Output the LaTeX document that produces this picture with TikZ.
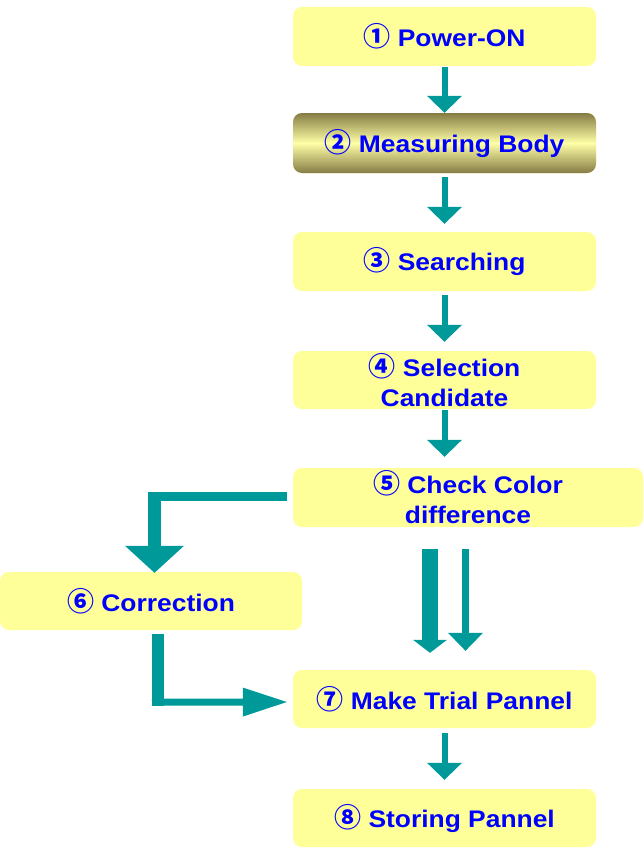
\documentclass[tikz,border=0pt]{standalone}
\usepackage{fontspec}
\setmainfont{Liberation Sans}[FakeStretch=1.1]
\newfontfamily\circfont{Noto Sans CJK JP}
\usetikzlibrary{arrows.meta,calc}
\definecolor{boxyellow}{HTML}{FFFF99}
\definecolor{arrowteal}{HTML}{009999}
\definecolor{oliveedge}{HTML}{857C45}
\definecolor{olivemid}{HTML}{FFFFA6}
\definecolor{textblue}{HTML}{0000FF}
\newcommand{\cnum}[1]{{\circfont\bfseries\fontsize{27}{27}\selectfont #1}}
\begin{document}
\begin{tikzpicture}[x=1pt,y=-1pt,
  stepbox/.style={rectangle, rounded corners=9pt, fill=boxyellow, minimum width=303pt,
    minimum height=59pt, inner sep=0pt, text=textblue,
    font=\bfseries\fontsize{24}{30}\selectfont, align=center},
  smallarrow/.style={draw=arrowteal, line width=6pt,
    -{Triangle[width=35pt,length=17pt,line width=0pt]}},
  bigshaft/.style={draw=arrowteal},
]
\useasboundingbox (0,0) rectangle (644,851);
% boxes
\node[stepbox] (b1) at (444.5,36.5) {\cnum{①} Power-ON};
\node[stepbox, top color=oliveedge, bottom color=oliveedge, middle color=olivemid,
      minimum height=60pt] (b2) at (444.5,143) {\cnum{②} Measuring Body};
\node[stepbox] (b3) at (444.5,261.5) {\cnum{③} Searching};
\node[stepbox, minimum height=58pt] (b4) at (444.5,380) {\cnum{④} Selection\\Candidate};
\node[stepbox, minimum width=350pt, minimum height=59pt] (b5) at (468,497.5) {\cnum{⑤} Check Color\\difference};
\node[stepbox, minimum width=302pt, minimum height=58pt] (b6) at (151,601) {\cnum{⑥} Correction};
\node[stepbox, minimum height=58pt] (b7) at (444.5,699) {\cnum{⑦} Make Trial Pannel};
\node[stepbox, minimum height=58pt] (b8) at (444.5,818) {\cnum{⑧} Storing Pannel};
% straight arrows
\draw[smallarrow, shorten <=1pt] (b1.south) -- (b2.north);
\draw[smallarrow, shorten <=4pt, shorten >=8pt] (b2.south) -- (b3.north);
\draw[smallarrow, shorten <=4pt, shorten >=9pt] (b3.south) -- (b4.north);
\draw[smallarrow, shorten <=1pt, shorten >=11pt] (b4.south) -- (b4.south |- b5.north);
\draw[smallarrow, shorten <=5pt, shorten >=9pt] (b7.south) -- (b8.north);
% elbow arrow 5 -> 6
\coordinate (h1) at ($(b5.west)+(-6,-1)$);
\coordinate (h2) at ($(b6.north)+(3.5,-80)$);
\draw[bigshaft, line width=9pt] (h1) -- ($(h1 -| h2)+(-6.5,0)$);
\draw[bigshaft, line width=13pt, -{Triangle[width=59pt,length=27pt,line width=0pt]}]
  (h2) -- ($(b6.north)+(3.5,1)$);
% elbow arrow 6 -> 7
\coordinate (v1) at ($(b6.south)+(7,4)$);
\coordinate (v2) at ($(b6.south)+(7,75.5)$);
\draw[bigshaft, line width=12pt] (v1) -- (v2);
\draw[bigshaft, line width=7pt, -{Triangle[width=29pt,length=44pt,line width=0pt]}]
  ($(v2)+(-6,-3.5)$) -- ($(b7.west)+(-6,3)$);
% two parallel arrows 5 -> 7
\draw[bigshaft, line width=16pt, -{Triangle[width=34pt,length=13pt,line width=0pt]}]
  ($(b5.south)+(-38,22)$) -- ($(b7.north)+(-14.5,-17)$);
\draw[bigshaft, line width=7pt, -{Triangle[width=35pt,length=18pt,line width=0pt]}]
  ($(b5.south)+(-2.5,22)$) -- ($(b7.north)+(21,-19)$);
\end{tikzpicture}
\end{document}
